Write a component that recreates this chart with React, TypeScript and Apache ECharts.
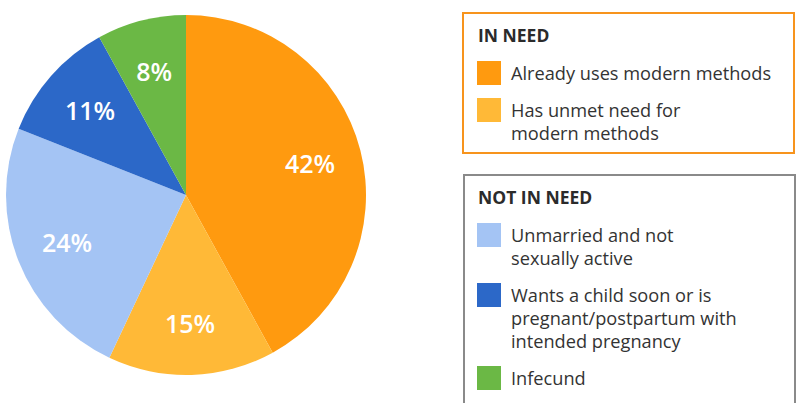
import React, { useEffect, useRef } from "react";
import * as echarts from "echarts";

const categories = [
  "Already uses modern methods",
  "Has unmet need for\nmodern methods",
  "Unmarried and not\nsexually active",
  "Wants a child soon or is\npregnant/postpartum with\nintended pregnancy",
  "Infecund",
];
const values = [42, 15, 24, 11, 8];
const groups = ["IN NEED", "IN NEED", "NOT IN NEED", "NOT IN NEED", "NOT IN NEED"];
const groupTitles = ["IN NEED", "NOT IN NEED"];
const colors = ["#FF9A0F", "#FFB937", "#A4C4F4", "#2C68C8", "#6BB845"];
const groupBorders = ["#F7941D", "#8A8A8A"];

const FONT = "'Open Sans', 'Noto Sans', sans-serif";

function buildLegend() {
  const els: any[] = [];
  const boxes = [
    { x: 463, y: 13, w: 331, h: 140, titleY: 35 },
    { x: 464, y: 175, w: 331, h: 240, titleY: 197 },
  ];
  const lineH = 23;
  const gap = 14;
  groupTitles.forEach((g, gi) => {
    const b = boxes[gi];
    els.push({
      type: "rect",
      shape: { x: b.x, y: b.y, width: b.w, height: b.h },
      style: { fill: "#fff", stroke: groupBorders[gi], lineWidth: 2 },
      z: 1,
    });
    els.push({
      type: "text",
      x: 478,
      y: b.titleY,
      style: {
        text: g,
        fill: "#2b2b2b",
        fontSize: 17.5,
        fontWeight: "bold",
        fontFamily: FONT,
        verticalAlign: "middle",
      },
      z: 2,
    });
    let y = b.titleY + 38;
    categories.forEach((c, i) => {
      if (groups[i] !== g) return;
      const lines = c.split("\n");
      els.push({
        type: "rect",
        shape: { x: 477, y: y - 12, width: 24, height: 24 },
        style: { fill: colors[i] },
        z: 2,
      });
      lines.forEach((ln, li) => {
        els.push({
          type: "text",
          x: 511,
          y: y + li * lineH,
          style: {
            text: ln,
            fill: "#333333",
            fontSize: 18.2,
            fontFamily: FONT,
            verticalAlign: "middle",
          },
          z: 2,
        });
      });
      y += lines.length * lineH + gap;
    });
  });
  return els;
}

export default function App() {
  const ref = useRef<HTMLDivElement>(null);
  useEffect(() => {
    if (!ref.current) return;
    const chart = echarts.init(ref.current, null, { renderer: "svg" });
    const data = values.map((v, i) => ({
      name: categories[i],
      value: v,
      itemStyle: { color: colors[i] },
    }));
    chart.setOption({
      animation: false,
      backgroundColor: "#ffffff",
      series: [
        {
          type: "pie",
          center: [186, 195],
          radius: 180,
          startAngle: 90,
          clockwise: true,
          silent: true,
          label: { show: false },
          labelLine: { show: false },
          itemStyle: { borderWidth: 0 },
          data,
        },
        {
          type: "pie",
          center: [186, 195],
          radius: [90, 160],
          startAngle: 90,
          clockwise: true,
          silent: true,
          itemStyle: { color: "transparent", borderWidth: 0 },
          label: {
            show: true,
            position: "inside",
            formatter: "{c}%",
            color: "#ffffff",
            fontSize: 25,
            fontWeight: 600,
            fontFamily: FONT,
          },
          labelLine: { show: false },
          data: values.map((v, i) => ({ name: categories[i], value: v })),
        },
      ],
      graphic: buildLegend(),
    });
    return () => chart.dispose();
  }, []);
  return (
    <div
      ref={ref}
      style={{ position: "fixed", left: 0, top: 0, width: 796, height: 403 }}
    />
  );
}
